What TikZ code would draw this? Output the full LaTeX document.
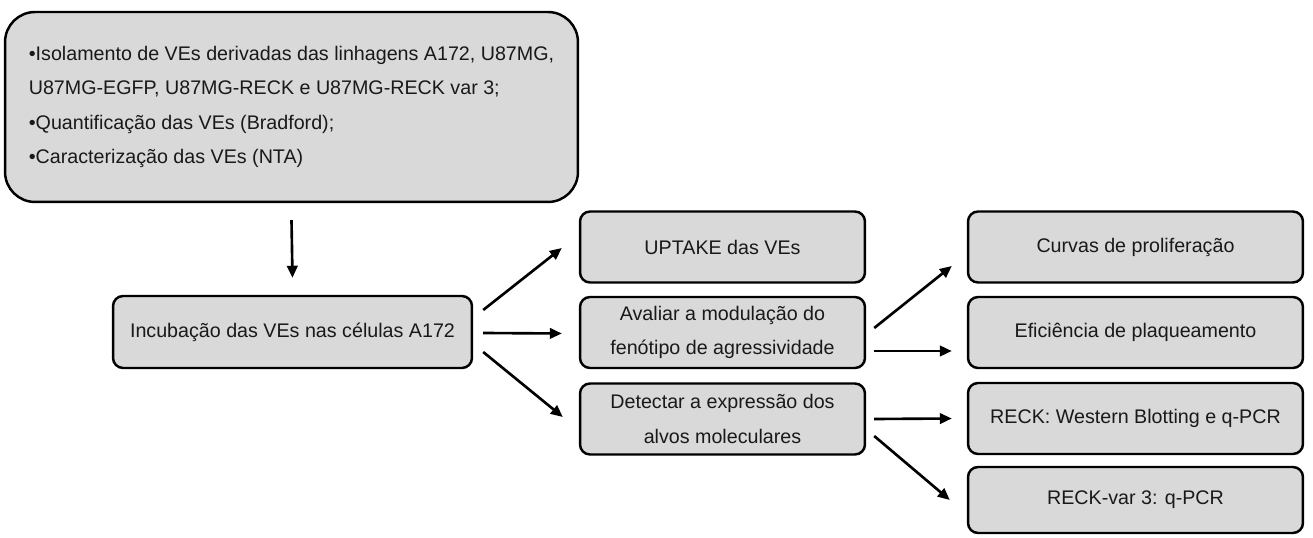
\documentclass[tikz,border=0pt]{standalone}
\usepackage{fontspec}
\setmainfont{Liberation Sans}
\usepackage{tikz}
\usetikzlibrary{arrows.meta}
\definecolor{boxgray}{HTML}{D9D9D9}

\begin{document}
\begin{tikzpicture}[x=0.02cm, y=0.02cm]
    \tikzstyle{gray box}=[
        draw = black,
        line width = 1.4pt,
        fill = boxgray,
        rounded corners = 0.2cm,
        align = center,
        text = black!90,
        font = \fontsize{11.2}{19.5}\selectfont,
        inner sep = 0pt
    ]
    \tikzstyle{big box}=[
        gray box,
        rounded corners = 0.6cm,
        align = left,
        minimum width = 11.46cm,
        minimum height = 3.8cm
    ]
    \tikzstyle{mid box}=[gray box, minimum width = 5.7cm, minimum height = 1.42cm]
    \tikzstyle{right box}=[gray box, minimum width = 6.7cm, minimum height = 1.42cm]
    \tikzstyle{arrow}=[-{Triangle[length=2.4mm, width=2.1mm]}, line width = 1.5pt]

    \useasboundingbox (0,0) rectangle (1313,538);

    \node[big box]   (t)   at (291.5, 431)  {•Isolamento de VEs derivadas das linhagens A172, U87MG,\\
                                             U87MG-EGFP, U87MG-RECK e U87MG-RECK var 3;\\
                                             •Quantificação das VEs (Bradford);\\
                                             •Caracterização das VEs (NTA)};
    \node[gray box, minimum width = 7.18cm, minimum height = 1.44cm]
                     (inc) at (292.5, 206)  {Incubação das VEs nas células A172};
    \node[mid box]   (up)  at (722.5, 291)  {UPTAKE das VEs};
    \node[mid box]   (av)  at (722.5, 205.5) {Avaliar a modulação do\\fenótipo de agressividade};
    \node[mid box]   (det) at (722.5, 119)  {Detectar a expressão dos\\alvos moleculares};
    \node[right box] (cur) at (1135.5, 291) {Curvas de proliferação};
    \node[right box] (efi) at (1135.5, 205.5) {Eficiência de plaqueamento};
    \node[right box] (rw)  at (1135.5, 119.5) {RECK: Western Blotting e q-PCR};
    \node[right box, minimum height = 1.32cm]
                     (rv)  at (1135.5, 38)  {RECK-var 3: q-PCR};

    \path[arrow] ([shift={(0,-17)}]t.south) edge ([shift={(0,17)}]inc.north);
    \path[arrow] ([shift={(10,22)}]inc.east)  edge ([shift={(-17,-1)}]up.west);
    \path[arrow] ([shift={(10,-1)}]inc.east)  edge ([shift={(-17,-1)}]av.west);
    \path[arrow] ([shift={(10,-20)}]inc.east) edge ([shift={(-16,2)}]det.west);
    \path[arrow] ([shift={(8,4.5)}]av.east)   edge ([shift={(-15,-19)}]cur.west);
    \path[arrow] ([shift={(8,-18.5)}]av.east) edge ([shift={(-15,-18.5)}]efi.west);
    \path[arrow] ([shift={(8,0)}]det.east)    edge ([shift={(-15,0)}]rw.west);
    \path[arrow] ([shift={(8,-17)}]det.east)  edge ([shift={(-17,0)}]rv.west);

\end{tikzpicture}
\end{document}
